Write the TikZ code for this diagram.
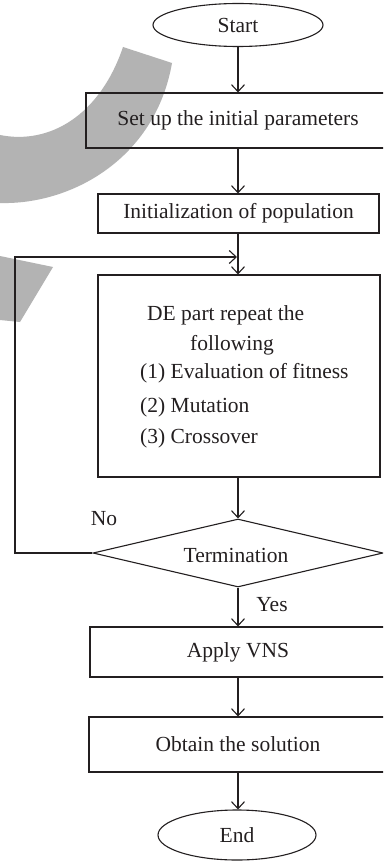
\documentclass[tikz,border=0pt]{standalone}
\usepackage{fontspec}
\setmainfont{Liberation Serif}
\usetikzlibrary{arrows.meta,shapes.geometric}
\definecolor{ink}{HTML}{231F20}
\definecolor{wm}{HTML}{B3B3B3}
\begin{document}
\begin{tikzpicture}[x=1pt,y=-1pt,
  line/.style={draw=ink,line width=1.1pt},
  flow/.style={line,-{Straight Barb[length=7pt,width=13pt]}},
  txt/.style={font=\fontsize{21.5}{25}\selectfont,text=ink},
  box/.style={line,rectangle,txt,inner sep=0pt},
  oval/.style={line,ellipse,txt,inner sep=0pt},
  plain/.style={txt,inner sep=0pt}
  ]
\useasboundingbox (0,0) rectangle (383,861);
\clip (0,0) rectangle (383,861);
\fill[white] (0,0) rectangle (383,861);
% watermark
\fill[wm] (123,47) .. controls (100,115) and (50,145) .. (0,135)
  -- (0,203) .. controls (70,205) and (155,160) .. (172,63) -- cycle;
\fill[wm] (0,256) -- (53,267) -- (20,322) -- (0,320) -- cycle;
% nodes
\node[oval,minimum width=170pt,minimum height=43pt] (start) at (238,25) {Start};
\node[box,minimum width=304pt,minimum height=55pt] (setup) at (238,120.5) {Set up the initial parameters};
\node[box,minimum width=281pt,minimum height=39pt] (init) at (238.5,213.5) {Initialization of population};
\node[box,minimum width=282pt,minimum height=202pt] (de) at (239,376) {};
\node[plain,anchor=base west] (l1) at (147,320) {DE part repeat the};
\node[plain,anchor=base west] (l2) at (190,350) {following};
\node[plain,anchor=base west] (l3) at (140,378) {(1) Evaluation of fitness};
\node[plain,anchor=base west] (l4) at (140,412) {(2) Mutation};
\node[plain,anchor=base west] (l5) at (140,443) {(3) Crossover};
\node[line,diamond,aspect=4.26,txt,inner sep=0pt,minimum width=290pt,minimum height=68pt] (dec) at (238,553) {};
\node[plain,anchor=base] (term) at (236,562) {Termination};
\node[box,minimum width=296pt,minimum height=50pt] (apply) at (238,652) {Apply VNS};
\node[box,minimum width=298pt,minimum height=55pt] (obtain) at (238,744.5) {Obtain the solution};
\node[oval,minimum width=158pt,minimum height=50pt] (end) at (237,835) {End};
\node[plain,anchor=base] (no) at (104,525) {No};
\node[plain,anchor=base] (yes) at (272,611) {Yes};
% connectors
\draw[flow] (start.south -| 238,0) -- (238,0 |- setup.north);
\draw[flow] (238,0 |- setup.south) -- (238,0 |- init.north);
\draw[flow] (238,0 |- init.south) -- (238,0 |- de.north);
\draw[flow] (238,0 |- de.south) -- (dec.north);
\draw[flow] (dec.south) -- (238,0 |- apply.north);
\draw[flow] (238,0 |- apply.south) -- (238,0 |- obtain.north);
\draw[flow] (238,0 |- obtain.south) -- (238,0 |- end.north);
\coordinate (loopL) at (15,553);
\coordinate (loopT) at (15,257);
\coordinate (loopE) at (237,257);
\draw[flow] (dec.west) -- (loopL) -- (loopT) -- (loopE);
\end{tikzpicture}
\end{document}
